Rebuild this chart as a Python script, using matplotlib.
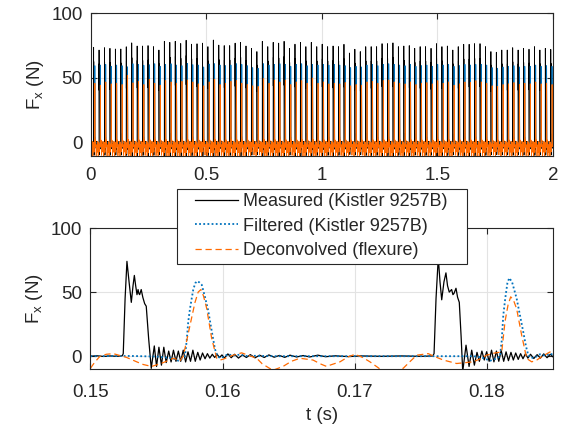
import numpy as np
import matplotlib.pyplot as plt
from matplotlib.patches import Rectangle

plt.rcParams['font.family'] = ['Liberation Sans', 'DejaVu Sans']
plt.rcParams['font.size'] = 13.5
plt.rcParams['mathtext.default'] = 'regular'

# close-up window, knots (t in s, F in N)
meas_t = [0.1500, 0.1505, 0.1510, 0.1515, 0.1520, 0.15240, 0.15248, 0.15262, 0.15276, 0.15292,
          0.15309, 0.15322, 0.15332, 0.15342, 0.15352, 0.15360, 0.15366, 0.15372, 0.15384, 0.15396,
          0.15410, 0.15422, 0.15440, 0.15460, 0.15483, 0.15500, 0.15518, 0.15537, 0.15555, 0.15573,
          0.15592, 0.15610, 0.15628, 0.15647, 0.15665, 0.15683, 0.15702, 0.15720, 0.15738, 0.15757,
          0.15775, 0.15793, 0.15812, 0.15830, 0.15848, 0.15867, 0.15885, 0.15903, 0.15922, 0.15940,
          0.15958, 0.15977, 0.15995, 0.16013, 0.16040, 0.16065, 0.16090, 0.16120, 0.16150, 0.16180,
          0.16210, 0.16245, 0.16280, 0.16315, 0.16350, 0.16390, 0.16430, 0.16470, 0.16510, 0.16560,
          0.16610, 0.16660, 0.16720, 0.16780, 0.16850, 0.16950, 0.17050, 0.17200, 0.17350, 0.17500,
          0.17590, 0.17600, 0.17615, 0.17632, 0.17645, 0.17658, 0.17675, 0.17690, 0.17702, 0.17715,
          0.17733, 0.17743, 0.17751, 0.17766, 0.17778, 0.17791, 0.17805, 0.17817, 0.17842, 0.17865,
          0.17885, 0.17905, 0.17925, 0.17943, 0.17962, 0.17980, 0.17998, 0.18017, 0.18035, 0.18053,
          0.18072, 0.18090, 0.18108, 0.18127, 0.18145, 0.18163, 0.18182, 0.18200, 0.18218, 0.18237,
          0.18255, 0.18273, 0.18292, 0.18310, 0.18330, 0.18355, 0.18380, 0.18405, 0.18430, 0.18455,
          0.18480, 0.18500]
meas_f = [0.0, 0.3, -0.2, 0.2, -0.1, 0.3, 2.0, 45.0, 74.0, 58.0,
          42.0, 55.0, 63.0, 55.0, 48.0, 52.0, 49.0, 48.0, 52.0, 46.0,
          41.0, 39.0, 14.0, -9.5, 8.0, -8.0, 7.0, -7.0, 7.0, -5.0,
          4.0, -4.5, 4.7, -4.0, 4.0, -4.0, 4.7, -4.5, 3.4, -4.0,
          4.7, -4.0, 3.0, -3.0, 2.5, -2.0, 2.0, -1.5, 1.5, -1.0,
          1.5, -1.0, 1.0, -1.5, 1.8, -1.2, 1.5, -1.5, 1.0, -1.0,
          1.2, -1.3, 0.8, -1.0, 1.0, -0.8, 0.6, -0.9, 0.8, -0.6,
          0.5, -0.6, 0.8, -0.4, 0.3, -0.3, 0.2, -0.1, 0.2, -0.1,
          0.2, 2.0, 45.0, 77.0, 58.0, 44.0, 58.0, 65.0, 55.0, 50.0,
          52.0, 48.0, 49.0, 53.0, 46.0, 42.0, 15.0, -12.0, 8.6, -8.0,
          4.7, -7.0, 3.0, -4.0, 4.0, -3.0, 3.5, -4.0, 4.7, -4.4,
          4.0, -4.0, 4.5, -4.0, 3.4, -3.5, 3.0, -3.0, 2.5, -2.5,
          2.0, -2.0, 2.0, -1.5, 1.5, -1.8, 1.2, -1.5, 1.8, -1.2,
          1.5, -0.5]

filt_t = [0.1500, 0.1530, 0.1550, 0.15620, 0.15664, 0.15700, 0.15715, 0.15728, 0.15740, 0.15753,
          0.15766, 0.15778, 0.15793, 0.15808, 0.15825, 0.15842, 0.15867, 0.15891, 0.15917, 0.15942,
          0.15960, 0.15980, 0.16005, 0.16040, 0.16080, 0.16130, 0.16180, 0.1625, 0.1640, 0.1700,
          0.1760, 0.1790, 0.17960, 0.18025, 0.18074, 0.18099, 0.18112, 0.18124, 0.18140, 0.18155,
          0.18169, 0.18190, 0.18225, 0.18250, 0.18275, 0.18295, 0.18313, 0.18335, 0.18370, 0.18400,
          0.18440, 0.18480, 0.18500]
filt_f = [0.0, 0.2, -0.3, -1.5, -3.5, -1.5, 0.0, 12.0, 27.0, 37.0,
          45.0, 52.0, 57.0, 58.6, 57.5, 55.7, 46.0, 35.5, 20.0, 5.6,
          0.4, -1.5, -0.5, 1.5, 0.5, 1.2, 0.2, 0.3, 0.0, 0.0,
          0.0, 0.0, -1.0, -3.5, -1.8, 0.0, 12.0, 32.0, 46.0, 57.0,
          61.0, 58.0, 45.0, 32.0, 19.0, 8.0, 0.8, -1.5, -0.5, 1.5,
          0.5, 2.0, 1.0]

dec_t = [0.15000, 0.15030, 0.15072, 0.15120, 0.15173, 0.15274, 0.15350, 0.15400, 0.15463, 0.15539,
         0.15627, 0.15677, 0.15702, 0.15728, 0.15753, 0.15791, 0.15815, 0.15836, 0.15855, 0.15879,
         0.15917, 0.15955, 0.15980, 0.16005, 0.16070, 0.16144, 0.16200, 0.16258, 0.16300, 0.16380,
         0.16457, 0.16520, 0.16585, 0.16684, 0.16740, 0.16787, 0.16812, 0.16888, 0.16950, 0.17002,
         0.17060, 0.17115, 0.17191, 0.17280, 0.17367, 0.17420, 0.17469, 0.17556, 0.17610, 0.17670,
         0.17771, 0.17897, 0.17950, 0.17998, 0.18060, 0.18112, 0.18137, 0.18160, 0.18180, 0.18200,
         0.18225, 0.18263, 0.18301, 0.18339, 0.18377, 0.18430, 0.18477, 0.18500]
dec_f = [-9.4, -5.0, 0.0, 1.5, 2.0, -1.0, -4.4, -6.5, -8.0, -5.5,
         -1.6, -3.6, 0.0, 12.0, 24.0, 42.0, 50.0, 52.0, 47.0, 37.5,
         14.0, -1.5, -3.0, -2.3, 0.5, 2.6, 0.5, -1.6, -6.0, -11.0,
         -8.0, -4.0, -1.6, -3.0, -6.0, -8.0, -7.0, -4.4, -0.5, 1.5,
         -1.0, -4.4, -10.0, -12.0, -9.4, -4.0, 0.8, 2.0, -0.5, -3.0,
         -5.7, -4.4, -2.0, 0.8, 2.5, 3.3, 27.0, 40.0, 46.3, 44.0,
         37.0, 16.4, -1.8, -4.4, -3.0, 0.5, 3.3, 2.0]

# start-up transient of the filtered and deconvolved records
filt_start_t = [0.0, 0.0006]
filt_start_f = [72.0, 0.0]
dec_start_t = [0.0, 0.0006]
dec_start_f = [45.0, 0.0]

# peak force of every cut over the 2 s record
meas_peaks = [73.6, 71.5, 73.3, 72.8, 72.3, 72.3, 74.0, 77.0, 74.6, 74.6,
              74.9, 74.1, 71.5, 78.2, 77.4, 78.2, 76.5, 79.0, 76.0, 76.3,
              76.8, 74.1, 79.2, 75.3, 74.9, 74.9, 76.8, 77.4, 74.6, 72.8,
              70.3, 78.2, 74.1, 77.4, 76.8, 78.2, 72.8, 76.0, 77.4, 74.1,
              77.4, 74.1, 76.0, 74.1, 74.6, 74.1, 75.9, 69.2, 72.1, 70.3,
              74.1, 74.1, 74.1, 76.4, 76.4, 77.0, 74.1, 74.6, 74.9, 72.8,
              74.1, 74.1, 72.8, 76.4, 74.1, 74.6, 71.5, 74.1, 75.9, 75.9,
              76.4, 76.4, 74.1, 70.3, 69.8, 71.5, 71.5, 73.3, 71.5, 72.8,
              72.1, 74.1, 71.5, 72.8, 72.0]
filt_peaks = [59.5, 60.0, 60.5, 59.0, 60.0, 59.5, 58.6, 61.0, 60.5, 59.8,
              60.2, 61.0, 59.0, 60.5, 61.0, 60.0, 59.5, 61.2, 60.3, 60.0,
              58.5, 60.8, 61.0, 60.0, 59.5, 60.0, 61.0, 60.5, 59.5, 58.0,
              57.5, 61.0, 60.0, 60.5, 61.0, 60.5, 59.0, 60.5, 61.0, 59.5,
              60.5, 60.0, 60.5, 60.0, 60.5, 60.0, 59.5, 58.0, 59.0, 58.5,
              60.0, 60.5, 59.5, 60.5, 61.0, 60.5, 60.0, 59.5, 60.5, 59.0,
              59.5, 60.0, 59.0, 60.5, 60.0, 60.5, 59.0, 59.5, 60.5, 60.0,
              60.5, 60.5, 60.0, 58.0, 57.5, 58.5, 59.0, 59.5, 58.5, 59.0,
              59.0, 60.0, 59.0, 59.5, 59.0]
dec_peaks = [46.0, 44.5, 47.0, 45.5, 46.0, 45.0, 52.0, 46.3, 47.5, 45.0,
             49.0, 46.0, 44.5, 48.0, 47.0, 46.0, 47.5, 48.5, 47.0, 45.5,
             44.0, 47.0, 49.0, 45.0, 46.0, 47.5, 48.0, 46.0, 45.0, 44.0,
             43.5, 49.5, 46.0, 48.5, 47.0, 48.5, 45.0, 47.0, 48.0, 46.0,
             50.0, 46.0, 47.0, 45.5, 46.0, 45.5, 46.5, 44.0, 45.0, 44.5,
             47.0, 47.5, 46.0, 48.0, 48.5, 47.0, 46.0, 45.5, 47.0, 45.0,
             46.0, 46.5, 45.5, 48.0, 46.0, 47.0, 44.5, 45.5, 47.0, 46.5,
             48.0, 47.0, 46.0, 44.0, 43.5, 45.0, 45.5, 46.5, 45.0, 46.0,
             45.5, 47.0, 45.5, 46.0, 45.0]

period = 0.02356        # one revolution of the cutter, s
first_onset = 0.0111    # onset of the first cut in the record, s
ref_onset = 0.15246     # onset of the first cut in the close-up
ref_index = 6           # that cut is number 6 of the record


def tile(t_knots, f_knots, peaks, start=None):
    # repeat the close-up revolution over the whole record, scaled cut by cut
    t_knots = np.asarray(t_knots)
    f_knots = np.asarray(f_knots)
    lo = ref_onset - 0.0005
    keep = (t_knots >= lo) & (t_knots < lo + period)
    rel_t = t_knots[keep] - ref_onset
    rel_f = f_knots[keep]
    ref_peak = peaks[ref_index]
    ts, fs = [], []
    for k in range(-1, len(peaks)):
        onset = first_onset + k * period
        scale = peaks[max(k, 0)] / ref_peak
        ts.append(onset + rel_t)
        fs.append(rel_f * scale)
    tt = np.concatenate(ts)
    ff = np.concatenate(fs)
    if start is not None:
        st, sf = start
        later = tt > st[-1]
        tt = np.concatenate([st, tt[later]])
        ff = np.concatenate([sf, ff[later]])
    return tt, ff


dark = '#262626'
series = [
    (meas_t, meas_f, meas_peaks, None, 'Measured (Kistler 9257B)',
     dict(color='black', linestyle='-', linewidth=0.9)),
    (filt_t, filt_f, filt_peaks, (filt_start_t, filt_start_f), 'Filtered (Kistler 9257B)',
     dict(color='#0072BD', linestyle=(0, (1, 1.3)), linewidth=1.3)),
    (dec_t, dec_f, dec_peaks, (dec_start_t, dec_start_f), 'Deconvolved (flexure)',
     dict(color='#FF6A00', linestyle=(0, (5, 3)), linewidth=0.9)),
]

fig = plt.figure(figsize=(5.63, 4.32), dpi=100)
ax1 = fig.add_axes([0.1616, 0.6389, 0.8206, 0.3310])
ax2 = fig.add_axes([0.1607, 0.1458, 0.8215, 0.3264])

handles = []
for t, f, peaks, start, label, style in series:
    tt, ff = tile(t, f, peaks, start)
    ax1.plot(tt, ff, color=style['color'], linewidth=0.6)
    h, = ax2.plot(t, f, label=label, **style)
    handles.append(h)

ax1.set_xlim(0, 2)
ax1.set_xticks([0, 0.5, 1, 1.5, 2])
ax1.set_xticklabels(['0', '0.5', '1', '1.5', '2'])
ax2.set_xlim(0.15, 0.185)
ax2.set_xticks([0.15, 0.16, 0.17, 0.18])
ax2.set_xlabel('t (s)', labelpad=4, color=dark)

for ax in (ax1, ax2):
    ax.set_ylim(-10, 100)
    ax.set_yticks([0, 50, 100])
    ax.set_ylabel('F$_\\mathregular{x}$ (N)', labelpad=4, color=dark)
    ax.grid(True, color='#E3E3E3', linewidth=0.8)
    ax.set_axisbelow(True)
    ax.tick_params(direction='in', top=True, right=True, length=4,
                   width=0.8, color=dark, labelcolor=dark)
    ax.tick_params(axis='y', pad=6)
    for sp in ax.spines.values():
        sp.set_color(dark)
        sp.set_linewidth(0.8)
ax1.tick_params(axis='x', pad=8)
ax2.tick_params(axis='x', pad=11)

# legend box sits over the top edge of the close-up
box = Rectangle((177 / 563, 1 - 264 / 432), 290 / 563, 75 / 432,
                transform=fig.transFigure, facecolor='white',
                edgecolor=dark, linewidth=0.8, zorder=5)
fig.add_artist(box)
leg = fig.legend(handles=handles, loc='upper left',
                 bbox_to_anchor=(195 / 563, 1 - 193 / 432),
                 frameon=False, borderpad=0, borderaxespad=0,
                 handlelength=2.4, handletextpad=0.25, labelspacing=0.42,
                 fontsize=13)
leg.set_zorder(6)
for txt in leg.get_texts():
    txt.set_color(dark)

fig.savefig('out.png', dpi=100)
